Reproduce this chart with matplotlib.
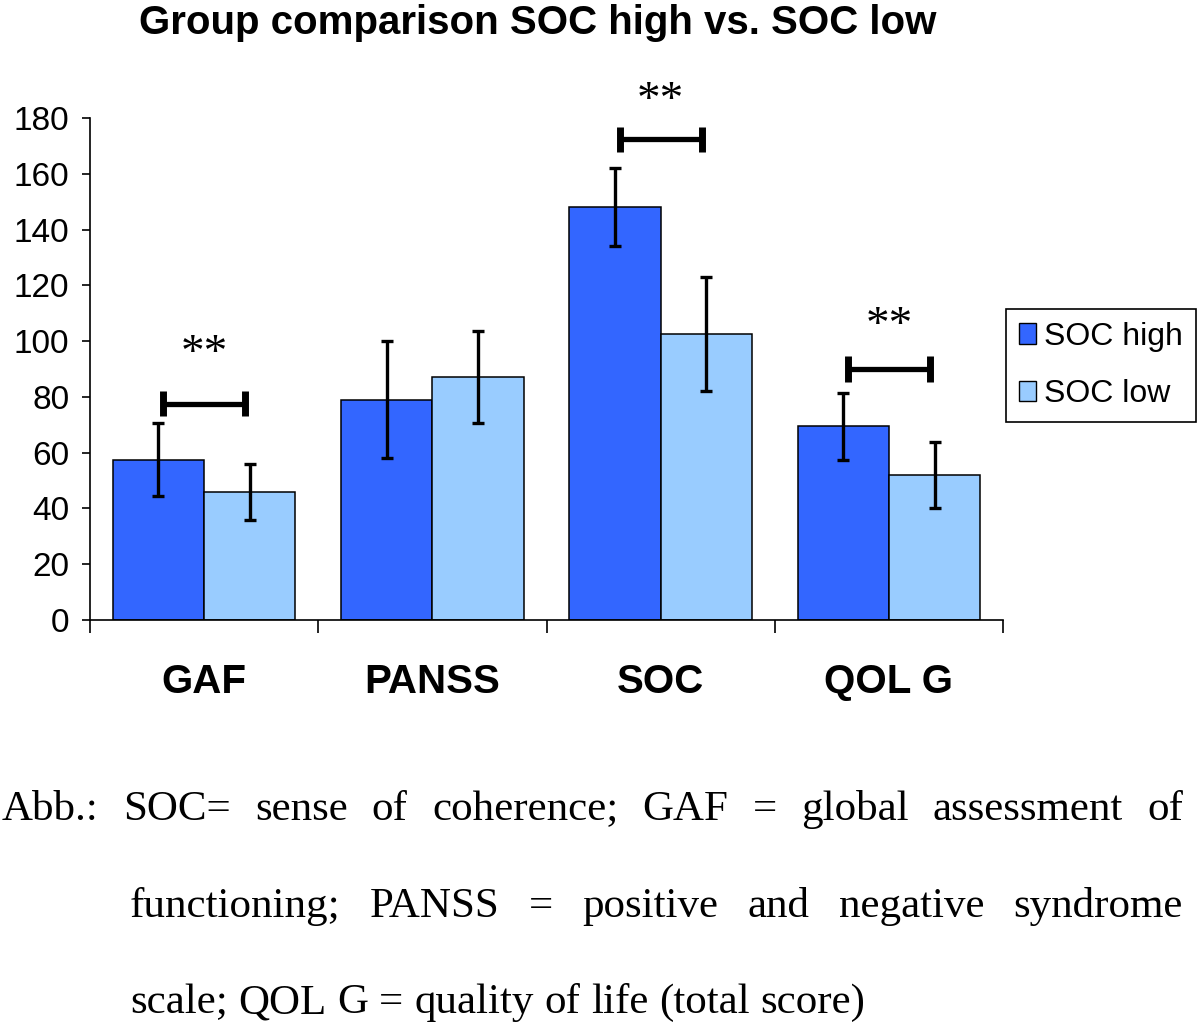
import numpy as np
import matplotlib
matplotlib.use('Agg')
import matplotlib.pyplot as plt
from matplotlib.patches import Patch

# data
categories = ['GAF', 'PANSS', 'SOC', 'QOL G']
soc_high = [57.5, 79, 148, 69.5]
soc_high_err = [13, 21, 14, 12]
soc_low = [46, 87, 102.5, 52]
soc_low_err = [10, 16.5, 20.5, 12]
sig_idx = [0, 2, 3]
sig_y = [77.6, 172.3, 90]
star_y = [95, 186, 105]
sig_labels = ['**', '**', '**']

col_high = '#3366ff'
col_low = '#99ccff'

plt.rcParams['font.family'] = 'Liberation Sans'

fig = plt.figure(figsize=(12, 10.28), dpi=100)
ax = fig.add_axes([90/1200, 1-620/1028, 913/1200, 502/1028])

x = np.arange(len(categories))
w = 0.4
ek = dict(ecolor='black', elinewidth=2.4, capsize=4, capthick=2.4)
ax.bar(x - w/2, soc_high, w, yerr=soc_high_err, color=col_high, edgecolor='black',
       linewidth=1.1, error_kw=ek, label='SOC high')
ax.bar(x + w/2, soc_low, w, yerr=soc_low_err, color=col_low, edgecolor='black',
       linewidth=1.1, error_kw=ek, label='SOC low')

# significance brackets
for i, yb, ys, s in zip(sig_idx, sig_y, star_y, sig_labels):
    ax.plot([i - 0.18, i + 0.18], [yb, yb], color='black', lw=3.8,
            solid_capstyle='butt', clip_on=False)
    for xe in (i - 0.18, i + 0.18):
        ax.plot([xe, xe], [yb - 4.5, yb + 4.5], color='black', lw=5,
                solid_capstyle='butt', clip_on=False)
    ax.text(i, ys, s, ha='center', va='center', fontsize=34,
            family='Liberation Serif', clip_on=False)

ax.set_xlim(-0.5, 3.5)
ax.set_ylim(0, 180)
ax.set_yticks(np.arange(0, 181, 20))
ax.tick_params(axis='y', labelsize=24, length=6, width=1.2, pad=9)
ax.set_xticks(np.arange(-0.5, 3.6, 1))
ax.set_xticklabels([])
ax.tick_params(axis='x', which='major', length=9, width=1.2)
ax.set_xticks(x, minor=True)
ax.set_xticklabels(categories, minor=True, fontsize=29, fontweight='bold')
ax.tick_params(axis='x', which='minor', length=0, pad=31)
for sp in ['top', 'right']:
    ax.spines[sp].set_visible(False)
for sp in ['left', 'bottom']:
    ax.spines[sp].set_linewidth(1.2)

fig.text(538/1200, 1-23/1028, 'Group comparison SOC high vs. SOC low', ha='center',
         va='center', fontsize=29, fontweight='bold')

handles = [Patch(facecolor=col_high, edgecolor='black', linewidth=1),
           Patch(facecolor=col_low, edgecolor='black', linewidth=1)]
leg = fig.legend(handles, ['SOC high', 'SOC low'], loc='upper left',
                 bbox_to_anchor=(1006/1200, 1-309/1028), borderaxespad=0,
                 fontsize=23, fancybox=False, edgecolor='black', framealpha=1,
                 handlelength=0.55, handleheight=0.6, handletextpad=0.25,
                 borderpad=0.4, labelspacing=0.85)
leg.get_frame().set_linewidth(1.2)

# caption, justified like the source text
caption = [
    ('Abb.: SOC= sense of coherence; GAF = global assessment of', 2, 1183, 820, True),
    ('functioning; PANSS = positive and negative syndrome', 130, 1183, 917, True),
    ('scale; QOL G = quality of life (total score)', 130, 1183, 1013, False),
]
fig.canvas.draw()
r = fig.canvas.get_renderer()
for line, left, right, base, just in caption:
    words = line.split(' ')
    ts = [fig.text(0, 1-base/1028, wd, fontsize=31, family='Liberation Serif',
                   va='baseline', ha='left') for wd in words]
    widths = [t.get_window_extent(r).width for t in ts]
    if just:
        gap = (right - left - sum(widths)) / (len(words) - 1)
    else:
        gap = ts[0].get_fontsize() * 100 / 72 * 0.25
    xp = left
    for t, wd in zip(ts, widths):
        t.set_x(xp / 1200)
        xp += wd + gap

fig.savefig('out.png', dpi=100)
